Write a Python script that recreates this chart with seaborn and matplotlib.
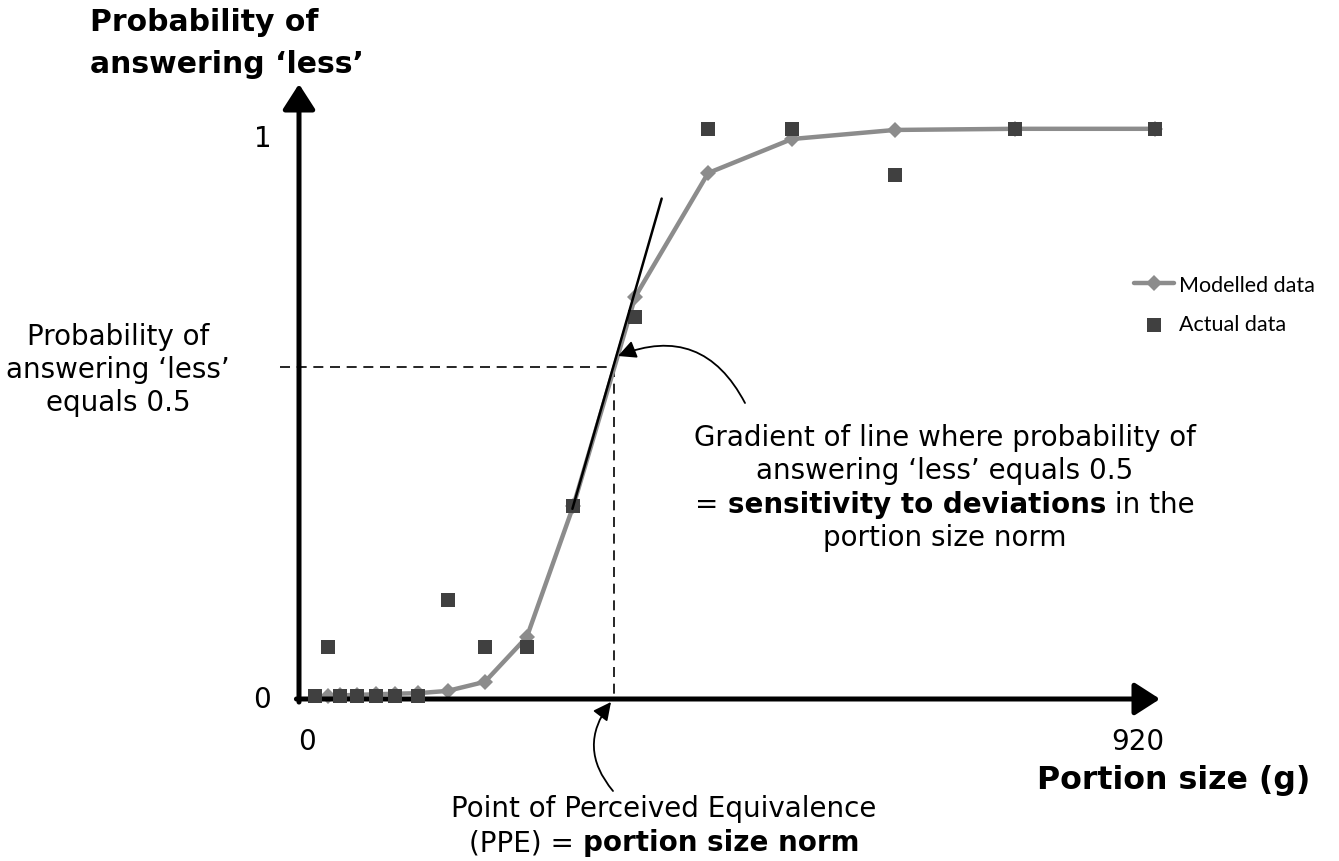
import numpy as np
import pandas as pd
import matplotlib
matplotlib.use("Agg")
import matplotlib.pyplot as plt
import matplotlib.transforms as mtrans
import seaborn as sns
from matplotlib.offsetbox import TextArea, HPacker, VPacker, AnnotationBbox

sns.set_style("white")
plt.rcParams['font.family'] = ['DejaVu Sans']
plt.rcParams['text.color'] = 'black'
plt.rcParams['xtick.color'] = 'black'
plt.rcParams['ytick.color'] = 'black'

# ---- data (portion size in g, probability of answering 'less') ----
actual_g = [16, 31, 44, 63, 83, 104, 130, 162, 203, 249, 300, 368, 448, 540, 653, 785, 939]
actual_p = [0.0, 0.086, 0.0, 0.0, 0.0, 0.0, 0.0, 0.169, 0.086, 0.086, 0.335, 0.668, 1.0, 1.0, 0.919, 1.0, 1.0]

model_g = [31, 44, 63, 83, 104, 130, 162, 203, 249, 300, 368, 448, 540, 653, 785, 939]
model_p = [0.0, 0.001, 0.002, 0.003, 0.004, 0.005, 0.009, 0.025, 0.104, 0.335, 0.704, 0.922, 0.982, 0.998, 1.0, 1.0]

ppe_g = 345
ppe_p = 0.58
tangent_g = [299, 397]
tangent_p = [0.33, 0.877]

x_ticks = [0, 920]
y_ticks = [0, 1]

df_actual = pd.DataFrame({'g': actual_g, 'p': actual_p})
df_model = pd.DataFrame({'g': model_g, 'p': model_p})

W, H = 1339, 862
fig = plt.figure(figsize=(W / 100, H / 100), dpi=100)
ax = fig.add_axes([299 / W, (H - 700) / H, (1160 - 299) / W, (700 - 85) / H])


def fx(px):
    return px / W


def fy(py):
    return 1 - py / H


# modelled curve + actual points
sns.lineplot(data=df_model, x='g', y='p', ax=ax, color='#8c8c8c', lw=3.2,
             marker='D', markersize=8.5, markeredgewidth=0, label='Modelled data',
             zorder=3, clip_on=False)
sns.scatterplot(data=df_actual, x='g', y='p', ax=ax, color='#404040', marker='s',
                s=110, linewidth=0, label='Actual data', zorder=4, clip_on=False)

# tangent at PPE
ax.plot(tangent_g, tangent_p, color='black', lw=1.8, zorder=5)

# dashed guides
ax.plot([-22, ppe_g], [ppe_p, ppe_p], color='black', lw=1.2, ls=(0, (6, 4)),
        clip_on=False, zorder=2)
ax.plot([ppe_g, ppe_g], [ppe_p, 0], color='black', lw=1.2, ls=(0, (6, 4)),
        clip_on=False, zorder=2)

ax.set_xlim(-1.1, 944)
ax.set_ylim(-0.0053, 1.079)
for s in ax.spines.values():
    s.set_visible(False)
ax.set_xticks(x_ticks)
ax.set_xticklabels([str(v) for v in x_ticks])
ax.set_yticks(y_ticks)
ax.set_yticklabels([str(v) for v in y_ticks])
ax.tick_params(length=0, labelsize=20, pad=20)
ax.set_xlabel('')
ax.set_ylabel('')
ax.grid(False)

# nudge a couple of tick labels like the original
xl0 = ax.get_xticklabels()[0]
xl0.set_transform(xl0.get_transform() + mtrans.ScaledTranslation(7 / 100, 0, fig.dpi_scale_trans))
yl1 = ax.get_yticklabels()[1]
yl1.set_transform(yl1.get_transform() + mtrans.ScaledTranslation(0, -6 / 100, fig.dpi_scale_trans))

# axis arrows
arrow = dict(arrowstyle='-|>,head_length=0.7,head_width=0.45', lw=3.6,
             color='black', mutation_scale=22, shrinkA=0, shrinkB=0)
ax.annotate('', xy=(0, 1), xytext=(0, -0.005), xycoords='axes fraction',
            arrowprops=arrow, annotation_clip=False)
ax.annotate('', xy=(1, 0), xytext=(-0.003, 0), xycoords='axes fraction',
            arrowprops=arrow, annotation_clip=False)

# legend
leg = ax.legend(loc='upper left', bbox_to_anchor=(fx(1134), fy(276)),
                bbox_transform=fig.transFigure, frameon=False,
                prop={'family': 'Lato', 'size': 15.5}, handlelength=1.85,
                handletextpad=0.25, labelspacing=0.9, borderpad=0,
                borderaxespad=0)

# axis titles
fig.text(fx(90), fy(8), 'Probability of\nanswering \u2018less\u2019', fontsize=21.5,
         fontweight='bold', ha='left', va='top', linespacing=1.55)
fig.text(fx(1310), fy(781), 'Portion size (g)', fontsize=22.8, fontweight='bold',
         ha='right', va='center')

# left note
fig.text(fx(118), fy(370), 'Probability of\nanswering \u2018less\u2019\nequals 0.5',
         fontsize=20, ha='center', va='center', linespacing=1.23)


def rich_block(lines, size, gap):
    rows = []
    for parts in lines:
        kids = [TextArea(t, textprops=dict(fontsize=size, fontweight=w, color='black'))
                for t, w in parts]
        rows.append(HPacker(children=kids, pad=0, sep=0, align='baseline'))
    return VPacker(children=rows, pad=0, sep=gap, align='center')


grad = rich_block([
    [('Gradient of line where probability of', 'normal')],
    [('answering \u2018less\u2019 equals 0.5', 'normal')],
    [('= ', 'normal'), ('sensitivity to deviations', 'bold'), (' in the', 'normal')],
    [('portion size norm', 'normal')],
], 20, 4)
fig.add_artist(AnnotationBbox(grad, (fx(945), fy(488)), xycoords='figure fraction',
                              box_alignment=(0.5, 0.5), frameon=False))

ppe = rich_block([
    [('Point of Perceived Equivalence', 'normal')],
    [('(PPE) = ', 'normal'), ('portion size norm', 'bold')],
], 20, 5)
fig.add_artist(AnnotationBbox(ppe, (fx(664), fy(826)), xycoords='figure fraction',
                              box_alignment=(0.5, 0.5), frameon=False))

# curved pointers
curve = dict(arrowstyle='-|>,head_length=0.6,head_width=0.3', lw=1.3, color='black',
             mutation_scale=18, shrinkA=0, shrinkB=0)
ax.annotate('', xy=(fx(618), fy(357)), xytext=(fx(745), fy(404)),
            xycoords='figure fraction', textcoords='figure fraction',
            arrowprops=dict(curve, connectionstyle='arc3,rad=0.45'))
ax.annotate('', xy=(fx(611), fy(703)), xytext=(fx(613), fy(792)),
            xycoords='figure fraction', textcoords='figure fraction',
            arrowprops=dict(curve, connectionstyle='arc3,rad=-0.4'),
            annotation_clip=False)

fig.savefig('out.png', dpi=100)
